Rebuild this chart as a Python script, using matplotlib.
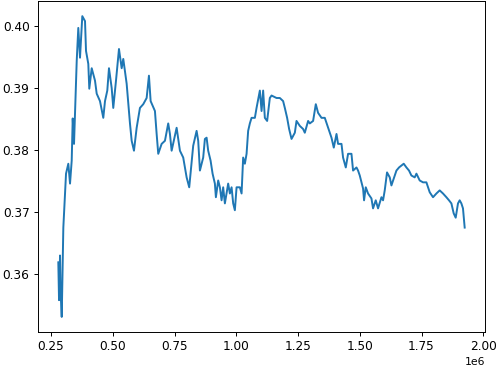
import numpy as np
import matplotlib
matplotlib.use("Agg")
import matplotlib.pyplot as plt

# x positions in millions, y values
x_millions = [
    0.2795, 0.2824, 0.2864, 0.2884, 0.2933, 0.2965, 0.2998, 0.3107, 0.3200, 0.3269,
    0.3337, 0.3378, 0.3431, 0.3540, 0.3604, 0.3673, 0.3766, 0.3876, 0.3916, 0.4009,
    0.4049, 0.4147, 0.4280, 0.4349, 0.4482, 0.4616, 0.4685, 0.4778, 0.4846, 0.4956,
    0.5020, 0.5130, 0.5251, 0.5360, 0.5425, 0.5562, 0.5696, 0.5765, 0.5858, 0.5967,
    0.6100, 0.6234, 0.6371, 0.6464, 0.6533, 0.6707, 0.6776, 0.6841, 0.6978, 0.7112,
    0.7245, 0.7314, 0.7383, 0.7585, 0.7719, 0.7852, 0.7990, 0.8095, 0.8256, 0.8394,
    0.8459, 0.8528, 0.8661, 0.8730, 0.8799, 0.8863, 0.8960, 0.9041, 0.9134, 0.9175,
    0.9268, 0.9337, 0.9405, 0.9470, 0.9539, 0.9672, 0.9741, 0.9810, 0.9875, 0.9943,
    1.0012, 1.0146, 1.0215, 1.0279, 1.0348, 1.0417, 1.0481, 1.0550, 1.0619, 1.0753,
    1.0821, 1.0955, 1.1024, 1.1088, 1.1157, 1.1250, 1.1359, 1.1428, 1.1630, 1.1764,
    1.1897, 1.1966, 1.2059, 1.2140, 1.2237, 1.2371, 1.2439, 1.2573, 1.2706, 1.2775,
    1.2909, 1.2977, 1.3111, 1.3220, 1.3313, 1.3451, 1.3584, 1.3718, 1.3855, 1.3948,
    1.4058, 1.4122, 1.4260, 1.4324, 1.4434, 1.4527, 1.4664, 1.4729, 1.4867, 1.4931,
    1.5000, 1.5069, 1.5134, 1.5174, 1.5243, 1.5336, 1.5473, 1.5538, 1.5647, 1.5740,
    1.5878, 1.5943, 1.6011, 1.6104, 1.6214, 1.6282, 1.6416, 1.6485, 1.6590, 1.6687,
    1.6780, 1.6889, 1.6994, 1.7091, 1.7225, 1.7294, 1.7427, 1.7561, 1.7698, 1.7832,
    1.7966, 1.8103, 1.8236, 1.8370, 1.8507, 1.8613, 1.8710, 1.8803, 1.8884, 1.8977,
    1.9045, 1.9114, 1.9179, 1.9248,
]
values = [
    0.3619, 0.3558, 0.3630, 0.3574, 0.3531, 0.3598, 0.3675, 0.3762, 0.3778, 0.3746,
    0.3783, 0.3851, 0.3810, 0.3944, 0.3997, 0.3949, 0.4016, 0.4008, 0.3960, 0.3939,
    0.3899, 0.3932, 0.3912, 0.3891, 0.3879, 0.3852, 0.3879, 0.3896, 0.3932, 0.3900,
    0.3868, 0.3912, 0.3963, 0.3932, 0.3947, 0.3907, 0.3843, 0.3815, 0.3799, 0.3836,
    0.3868, 0.3874, 0.3884, 0.3920, 0.3879, 0.3863, 0.3826, 0.3794, 0.3810, 0.3815,
    0.3843, 0.3826, 0.3799, 0.3836, 0.3799, 0.3788, 0.3756, 0.3740, 0.3807, 0.3831,
    0.3815, 0.3767, 0.3788, 0.3818, 0.3820, 0.3799, 0.3783, 0.3762, 0.3746, 0.3724,
    0.3751, 0.3740, 0.3719, 0.3740, 0.3714, 0.3746, 0.3730, 0.3740, 0.3714, 0.3703,
    0.3740, 0.3740, 0.3730, 0.3788, 0.3778, 0.3794, 0.3831, 0.3843, 0.3852, 0.3852,
    0.3868, 0.3896, 0.3863, 0.3896, 0.3852, 0.3847, 0.3884, 0.3888, 0.3884, 0.3884,
    0.3879, 0.3868, 0.3852, 0.3834, 0.3818, 0.3828, 0.3847, 0.3839, 0.3834, 0.3828,
    0.3847, 0.3843, 0.3847, 0.3874, 0.3860, 0.3852, 0.3852, 0.3836, 0.3820, 0.3804,
    0.3826, 0.3810, 0.3810, 0.3788, 0.3772, 0.3794, 0.3794, 0.3767, 0.3772, 0.3767,
    0.3759, 0.3748, 0.3738, 0.3719, 0.3740, 0.3730, 0.3722, 0.3706, 0.3719, 0.3706,
    0.3724, 0.3719, 0.3735, 0.3764, 0.3756, 0.3743, 0.3759, 0.3767, 0.3772, 0.3775,
    0.3778, 0.3772, 0.3767, 0.3759, 0.3756, 0.3762, 0.3751, 0.3748, 0.3748, 0.3732,
    0.3724, 0.3730, 0.3735, 0.3730, 0.3724, 0.3719, 0.3714, 0.3698, 0.3691, 0.3714,
    0.3719, 0.3714, 0.3706, 0.3675,
]

x = np.array(x_millions) * 1e6
y = np.array(values)

DPI = 87.4
fig = plt.figure(figsize=(500 / DPI, 368 / DPI), dpi=DPI)
ax = fig.add_subplot(111)
fig.subplots_adjust(left=0.076, right=0.97, bottom=0.098, top=0.997)
ax.plot(x, y, color="#1f77b4", linewidth=1.6)
ax.xaxis.get_offset_text().set_fontsize(9)
fig.savefig("out.png", dpi=DPI)
